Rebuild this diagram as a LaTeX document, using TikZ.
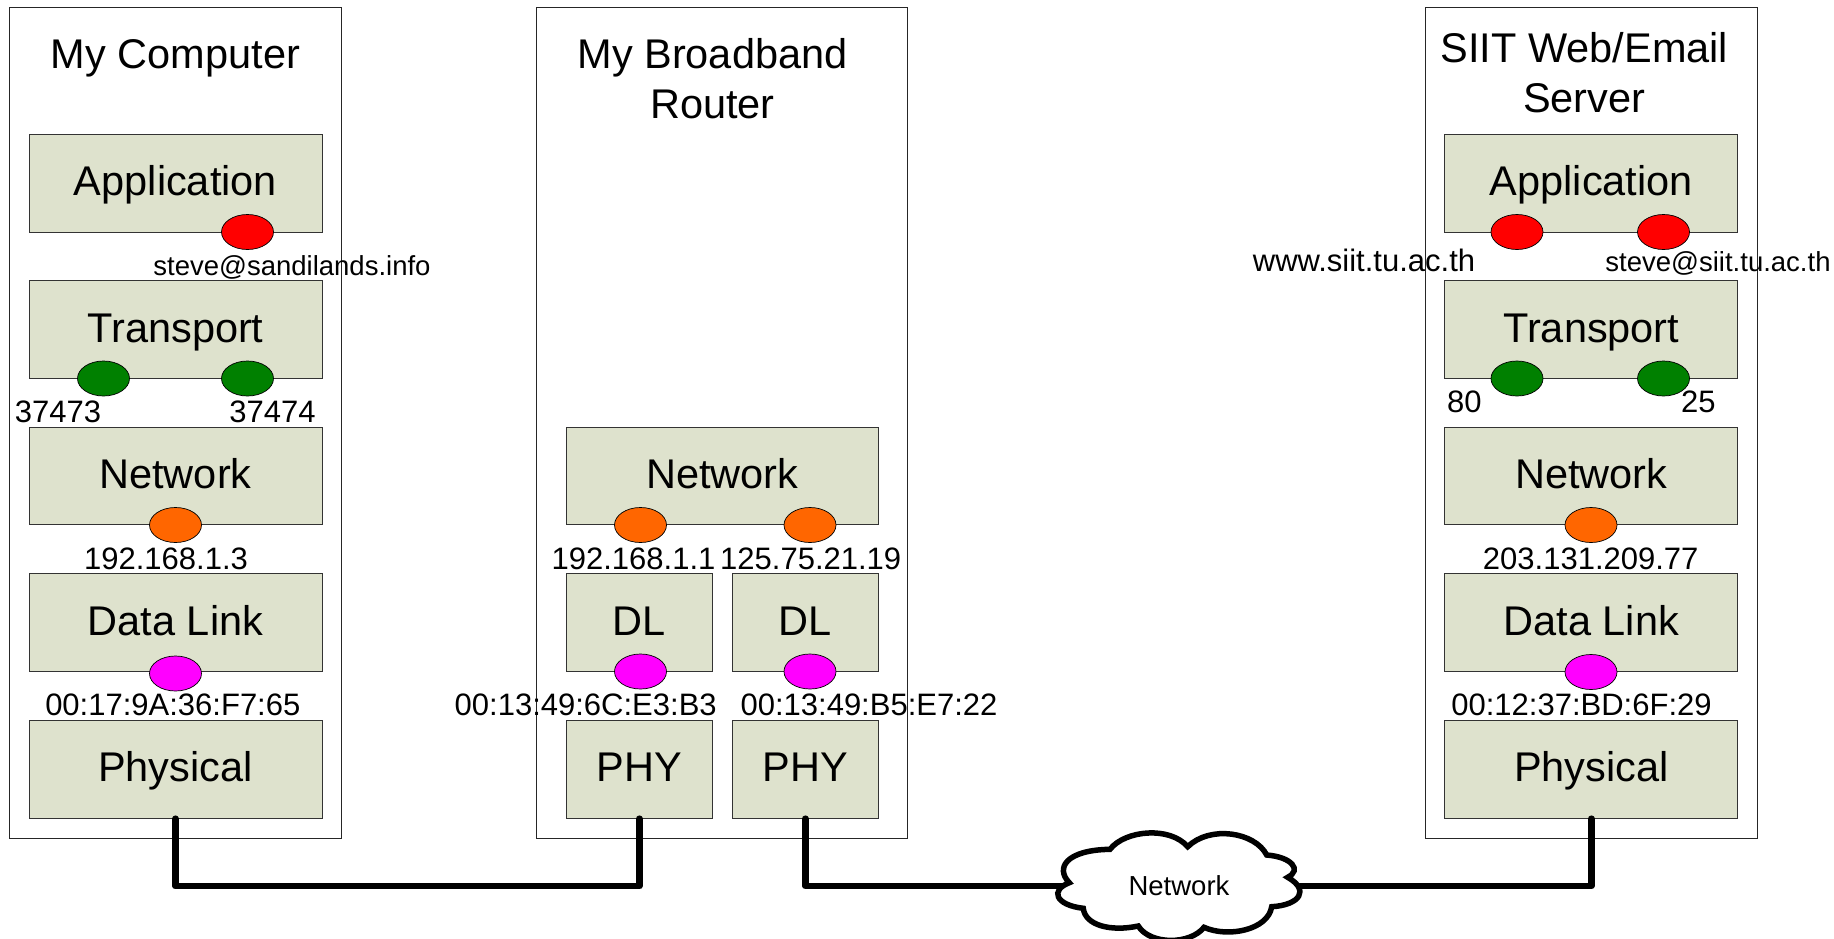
\documentclass[tikz,border=0pt]{standalone}
\usepackage{fontspec}
\setmainfont{Liberation Sans}
\usetikzlibrary{shapes.geometric}
\definecolor{layerfill}{HTML}{DEE2CD}
\definecolor{portorange}{HTML}{FF6600}
\definecolor{portgreen}{HTML}{008000}
\definecolor{portpink}{HTML}{FF00FF}
\tikzset{
  hostbox/.style={draw=black!85,line width=1pt,minimum width=#1,minimum height=830.5pt,inner sep=0pt},
  layerbox/.style={draw=black!80,line width=1pt,fill=layerfill,minimum width=#1,minimum height=97.5pt,inner sep=0pt,
    font=\fontsize{41.5}{41.5}\selectfont,text height=30pt,text depth=5pt},
  port/.style={ellipse,draw=black,line width=.7pt,fill=#1,minimum width=52pt,minimum height=35pt,inner sep=0pt},
  title/.style={anchor=base,inner sep=0pt,font=\fontsize{41.5}{50}\selectfont},
  addr/.style={anchor=base,inner sep=0pt,font=\fontsize{31}{36}\selectfont},
  mail/.style={anchor=base,inner sep=0pt,font=\fontsize{27.5}{33}\selectfont},
  wire/.style={line width=6.5pt,line cap=round,line join=round}
}
\begin{document}
\begin{tikzpicture}[x=1pt,y=-1pt]
\useasboundingbox (0,0) rectangle (1834,938);
% my computer
\node[hostbox=332pt] (hostA) at (175.5,422.75) {};
\node[title] (titleA) at (175.5,68.3) {My Computer};
\node[layerbox=293pt] (appA) at (175.5,183.3) {Application};
\node[layerbox=293pt] (transA) at (175.5,329.7) {Transport};
\node[layerbox=293pt] (netA) at (175.5,476) {Network};
\node[layerbox=293pt] (dlA) at (175.5,622.7) {Data Link};
\node[layerbox=293pt] (phyA) at (175.5,769.4) {Physical};
\node[port=red] (appPortA) at (247.5,232) {};
\node[port=portgreen] (tcpPortA) at (103.5,378.5) {};
\node[port=portgreen] (tcpPortB) at (247.5,378.5) {};
\node[port=portorange] (ipPortA) at (175.5,525) {};
\node[port=portpink] (macPortA) at (175.5,673.5) {};
\node[mail] (mailA) at (292,275) {steve@sandilands.info};
\node[addr] (numA) at (58,422.3) {37473};
\node[addr] (numB) at (272.5,422.3) {37474};
\node[addr] (ipA) at (166,569) {192.168.1.3};
\node[addr] (macA) at (172.8,715) {00:17:9A:36:F7:65};
% router
\node[hostbox=371pt] (hostB) at (722.2,422.75) {};
\node[title,align=center] (titleB) at (712.5,118) {My Broadband\\Router};
\node[layerbox=312.5pt] (netB) at (722.3,476) {Network};
\node[layerbox=146.5pt] (dlB) at (639.3,622.7) {DL};
\node[layerbox=146.5pt] (dlC) at (805.3,622.7) {DL};
\node[layerbox=146.5pt] (phyB) at (639.3,769.4) {PHY};
\node[layerbox=146.5pt] (phyC) at (805.3,769.4) {PHY};
\node[port=portorange] (ipPortB) at (640.5,525) {};
\node[port=portorange] (ipPortC) at (810,525) {};
\node[port=portpink] (macPortB) at (640.5,671.5) {};
\node[port=portpink] (macPortC) at (810,671.5) {};
\node[addr] (ipB) at (633.5,569) {192.168.1.1};
\node[addr] (ipC) at (810.7,569) {125.75.21.19};
\node[addr] (macB) at (585.7,715) {00:13:49:6C:E3:B3};
\node[addr] (macC) at (869,715) {00:13:49:B5:E7:22};
% server
\node[hostbox=332pt] (hostC) at (1591.2,422.75) {};
\node[title,align=center] (titleC) at (1584.3,112.7) {SIIT Web/Email\\Server};
\node[layerbox=293pt] (appC) at (1591.3,183.3) {Application};
\node[layerbox=293pt] (transC) at (1591.3,329.7) {Transport};
\node[layerbox=293pt] (netC) at (1591.3,476) {Network};
\node[layerbox=293pt] (dlD) at (1591.3,622.7) {Data Link};
\node[layerbox=293pt] (phyD) at (1591.3,769.4) {Physical};
\node[port=red] (appPortB) at (1517,232) {};
\node[port=red] (appPortC) at (1663.5,232) {};
\node[port=portgreen] (tcpPortC) at (1517,378.5) {};
\node[port=portgreen] (tcpPortD) at (1663.5,378.5) {};
\node[port=portorange] (ipPortD) at (1591,525) {};
\node[port=portpink] (macPortD) at (1591,672) {};
\node[addr] (siteC) at (1364,271) {www.siit.tu.ac.th};
\node[mail] (mailC) at (1718,271) {steve@siit.tu.ac.th};
\node[addr] (numC) at (1464.3,412.3) {80};
\node[addr] (numD) at (1698.3,412.3) {25};
\node[addr] (ipD) at (1590.7,569) {203.131.209.77};
\node[addr] (macD) at (1581.5,715) {00:12:37:BD:6F:29};
% links
\coordinate (cloudW) at (1062,886);
\coordinate (cloudE) at (1300,886);
\draw[wire] (phyA.south) -- ++(0,67.5) -| (phyB.south);
\draw[wire] (phyC.south) |- (cloudW);
\draw[wire] (cloudE) -| (phyD.south);
% cloud
\draw[line width=5.5pt,fill=white,line join=miter]
  (1069.3,882.7) .. controls (1055,868) and (1066,850) .. (1110,849.3)
  .. controls (1125,830) and (1170,826) .. (1187.7,846.7)
  .. controls (1210,825) and (1255,832) .. (1266.7,855)
  .. controls (1292,857) and (1302,870) .. (1287.7,877.3)
  .. controls (1310,890) and (1300,905) .. (1271.7,906.7)
  .. controls (1268,930) and (1228,938) .. (1204,927.3)
  .. controls (1190,945) and (1150,945) .. (1138.3,926)
  .. controls (1110,932) and (1085,925) .. (1083.3,908.3)
  .. controls (1055,905) and (1050,890) .. cycle;
\node[mail] (cloud) at (1179,895) {Network};
\end{tikzpicture}
\end{document}
